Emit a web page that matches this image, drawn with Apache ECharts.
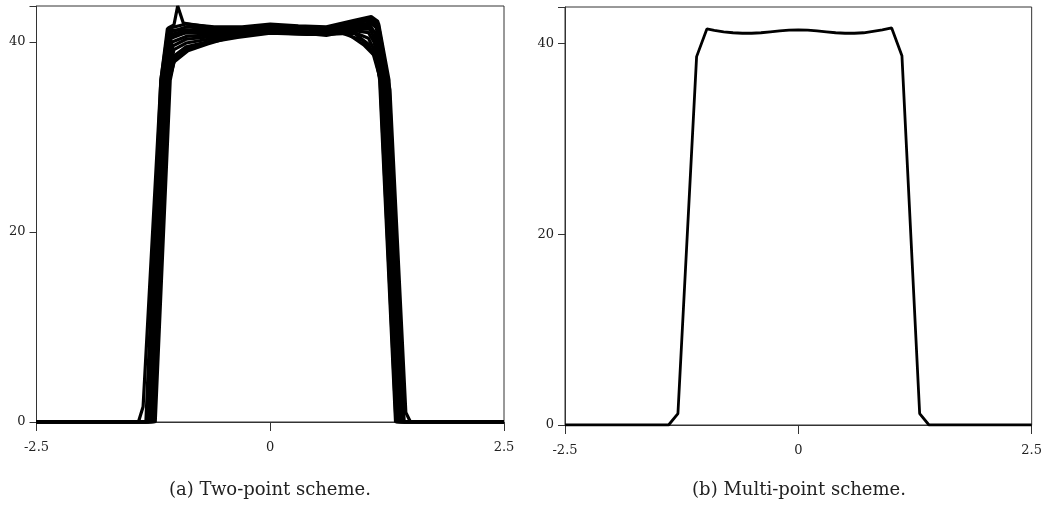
<!DOCTYPE html>
<html>
<head>
<meta charset="utf-8">
<script src="https://cdn.jsdelivr.net/npm/echarts@6/dist/echarts.min.js"></script>
<style>
html,body{margin:0;padding:0;background:#fff;}
#chart{width:1045px;height:509px;}
</style>
</head>
<body>
<div id="chart"></div>
<script>
// ---- Data ----
var xTickValues = [-2.5, 0, 2.5];
var yTickValues = [0, 20, 40];
var captionA = '(a) Two-point scheme.';
var captionB = '(b) Multi-point scheme.';

// Panel (a): overlapping runs of the two-point scheme, [x, y]
var runA1 = [[-2.5,0],[-1.33,0],[-1.17,36],[-1.10,41.4],[-0.9,41.9],[-0.6,41.6],[-0.3,41.6],[0,41.9],[0.3,41.7],[0.6,41.6],[0.9,42.3],[1.08,42.7],[1.15,42.2],[1.26,36],[1.43,0],[2.5,0]];
var runA2 = [[-2.5,0],[-1.31,0],[-1.15,36],[-1.08,41.0],[-0.9,41.6],[-0.6,41.4],[-0.3,41.3],[0,41.7],[0.3,41.5],[0.6,41.3],[0.9,42.0],[1.07,42.3],[1.13,41.7],[1.24,36],[1.41,0],[2.5,0]];
var runA3 = [[-2.5,0],[-1.29,0],[-1.13,36],[-1.06,40.4],[-0.9,41.0],[-0.6,41.1],[-0.3,41.1],[0,41.4],[0.3,41.3],[0.6,41.1],[0.9,41.6],[1.06,41.8],[1.12,41.0],[1.22,36],[1.39,0],[2.5,0]];
var runA4 = [[-2.5,0],[-1.27,0],[-1.11,36],[-1.04,39.6],[-0.9,40.3],[-0.6,40.6],[-0.3,40.9],[0,41.2],[0.3,41.1],[0.6,40.9],[0.9,41.2],[1.05,41.0],[1.11,40.0],[1.20,36],[1.37,0],[2.5,0]];
var runA5 = [[-2.5,0],[-1.25,0],[-1.09,36],[-1.02,38.6],[-0.9,39.5],[-0.6,40.2],[-0.3,40.7],[0,41.1],[0.3,41.0],[0.6,40.9],[0.9,40.9],[1.05,39.8],[1.10,38.8],[1.18,36],[1.35,0],[2.5,0]];
var runA6 = [[-2.5,0],[-1.23,0],[-1.07,36],[-1.03,37.9],[-0.88,39.1],[-0.67,39.8],[-0.4,40.6],[0,41.0],[0.45,40.8],[0.78,41.2],[1.0,39.7],[1.14,38.3],[1.17,36],[1.34,0],[2.5,0]];
var runA7 = [[-2.5,0],[-1.32,0],[-1.16,36],[-1.09,41.2],[-0.9,41.3],[-0.6,41.0],[-0.3,41.2],[0,41.5],[0.3,41.2],[0.6,41.0],[0.9,41.8],[1.07,42.0],[1.14,41.5],[1.25,36],[1.42,0],[2.5,0]];
var runA8 = [[-2.5,0],[-1.28,0],[-1.12,36],[-1.05,40.0],[-0.9,40.6],[-0.6,40.8],[-0.3,40.8],[0,41.3],[0.3,41.0],[0.6,40.7],[0.9,41.3],[1.06,41.4],[1.11,40.5],[1.21,36],[1.38,0],[2.5,0]];
var runA9 = [[-2.5,0],[-1.41,0],[-1.36,1.6],[-1.17,36],[-1.09,41.5],[-1.03,41.8],[-0.99,43.8],[-0.93,42.0],[-0.6,41.5],[-0.3,41.4],[0,41.6],[0.3,41.4],[0.6,41.3],[0.9,42.1],[1.09,42.5],[1.16,41.9],[1.27,36],[1.43,0],[2.5,0]];
var runA10 = [[-2.5,0],[-1.30,0],[-1.14,36],[-1.07,40.8],[-0.9,41.2],[-0.6,41.3],[-0.3,41.0],[0,41.3],[0.3,41.6],[0.6,41.4],[0.9,41.9],[1.08,42.4],[1.14,41.6],[1.28,35],[1.45,1.0],[1.50,0],[2.5,0]];
var runA11 = [[-2.5,0],[-1.26,0],[-1.10,36],[-1.03,39.2],[-0.9,39.9],[-0.6,40.4],[-0.3,40.7],[0,41.1],[0.3,41.0],[0.6,40.8],[0.9,41.0],[1.05,40.4],[1.10,39.4],[1.19,36],[1.36,0],[2.5,0]];
var runA12 = [[-2.5,0],[-1.24,0],[-1.08,36],[-1.02,38.2],[-0.89,39.3],[-0.65,40.0],[-0.35,40.5],[0,40.95],[0.4,40.8],[0.75,41.0],[0.98,40.2],[1.12,38.6],[1.175,36],[1.345,0],[2.5,0]];
var runA13 = [[-2.5,0],[-1.30,0],[-1.14,36],[-1.075,40.6],[-0.9,41.0],[-0.6,40.9],[-0.3,41.0],[0,41.35],[0.3,41.3],[0.6,41.2],[0.9,41.5],[1.07,41.6],[1.13,40.8],[1.23,36],[1.40,0],[2.5,0]];
var runsA = [runA1, runA2, runA3, runA4, runA5, runA6, runA7, runA8, runA9, runA10, runA11, runA12, runA13];

// Panel (b): multi-point scheme, [x, y]
var curveB = [[-2.5,0],[-1.39,0],[-1.29,1.2],[-1.09,38.6],[-0.98,41.5],[-0.9,41.35],[-0.8,41.2],[-0.7,41.1],[-0.6,41.05],[-0.5,41.05],[-0.4,41.1],[-0.3,41.2],[-0.2,41.3],[-0.1,41.38],[0,41.4],[0.1,41.38],[0.2,41.3],[0.3,41.2],[0.4,41.1],[0.5,41.05],[0.6,41.05],[0.7,41.1],[0.8,41.25],[0.9,41.4],[1.0,41.6],[1.11,38.7],[1.30,1.2],[1.40,0],[2.5,0]];

// ---- Chart ----
var serif = 'DejaVu Serif';
function xAxisFor(gi){
  return {
    type:'value', gridIndex:gi, min:xTickValues[0], max:xTickValues[xTickValues.length-1],
    interval:xTickValues[1]-xTickValues[0],
    axisLine:{show:true, onZero:false, lineStyle:{color:'#333', width:1}},
    axisTick:{show:true, inside:false, length:9, lineStyle:{color:'#333', width:1}},
    axisLabel:{show:true, margin:19, color:'#222', fontFamily:serif, fontSize:13},
    splitLine:{show:false}
  };
}
function yAxisFor(gi){
  return {
    type:'value', gridIndex:gi, min:0, max:43.8,
    interval:yTickValues[1]-yTickValues[0],
    axisLine:{show:true, onZero:false, lineStyle:{color:'#333', width:1}},
    axisTick:{show:true, inside:false, length:7, lineStyle:{color:'#333', width:1}},
    axisLabel:{show:true, margin:11, color:'#222', fontFamily:serif, fontSize:13,
      formatter:function(v){ return yTickValues.indexOf(v) >= 0 ? String(v) : ''; }},
    splitLine:{show:false}
  };
}
var series = runsA.map(function(run){
  return {type:'line', xAxisIndex:0, yAxisIndex:0, data:run, showSymbol:false, symbol:'none',
    lineStyle:{color:'#000', width:3.2}, animation:false, silent:true};
});
series.push({type:'line', xAxisIndex:1, yAxisIndex:1, data:curveB, showSymbol:false, symbol:'none',
  lineStyle:{color:'#000', width:2.8}, animation:false, silent:true});

var chart = echarts.init(document.getElementById('chart'), null, {renderer:'canvas'});
chart.setOption({
  backgroundColor:'#fff',
  animation:false,
  grid:[
    {left:36.5, top:6, width:467.5, height:416, show:true, borderColor:'#333', borderWidth:1, backgroundColor:'transparent'},
    {left:565, top:7, width:470, height:418, show:true, borderColor:'#333', borderWidth:1, backgroundColor:'transparent'}
  ],
  xAxis:[xAxisFor(0), xAxisFor(1)],
  yAxis:[yAxisFor(0), yAxisFor(1)],
  series:series,
  graphic:[
    {type:'text', x:270, y:490, style:{text:captionA, fill:'#222', font:'18px "DejaVu Serif"', textAlign:'center', textVerticalAlign:'middle'}},
    {type:'text', x:799, y:490, style:{text:captionB, fill:'#222', font:'18px "DejaVu Serif"', textAlign:'center', textVerticalAlign:'middle'}}
  ]
});
</script>
</body>
</html>
